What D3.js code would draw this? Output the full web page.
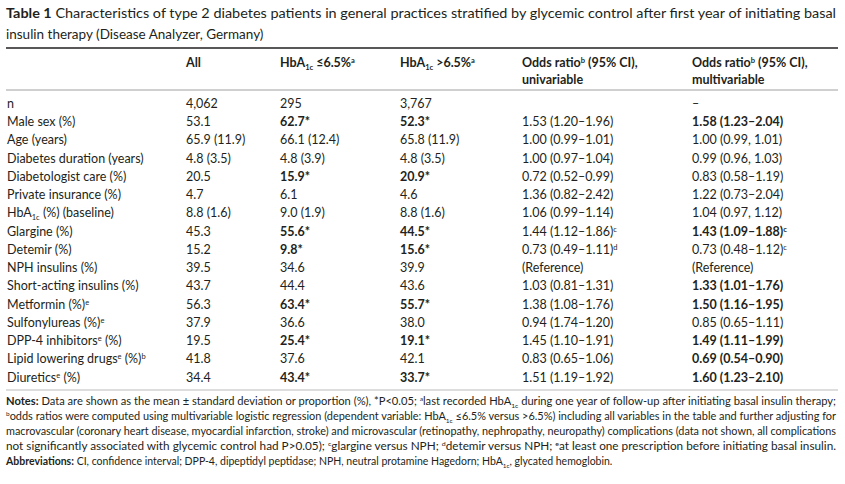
<!DOCTYPE html>
<html><head><meta charset="utf-8">
<script src="https://cdn.jsdelivr.net/npm/d3@7"></script>
<style>body{margin:0;background:#fff}svg{font-family:Lato,"Open Sans",sans-serif;fill:#231f20}</style>
</head><body><div id="chart"></div>
<script>
// markup: _x_ subscript, ^x^ superscript, ** prefix = bold cell
var titleLines = ["**Table 1** Characteristics of type 2 diabetes patients in general practices stratified by glycemic control after first year of initiating basal",
  "insulin therapy (Disease Analyzer, Germany)"];
var headers1 = ["", "All", "HbA_1c_ ≤6.5%^a^", "HbA_1c_ >6.5%^a^", "Odds ratio^b^ (95% CI),", "Odds ratio^b^ (95% CI),"];
var headers2 = ["", "", "", "", "univariable", "multivariable"];
var labels = ["n","Male sex (%)","Age (years)","Diabetes duration (years)","Diabetologist care (%)","Private insurance (%)",
  "HbA_1c_ (%) (baseline)","Glargine (%)","Detemir (%)","NPH insulins (%)","Short-acting insulins (%)","Metformin (%)^e^",
  "Sulfonylureas (%)^e^","DPP-4 inhibitors^e^ (%)","Lipid lowering drugs^e^ (%)^b^","Diuretics^e^ (%)"];
var allPts = ["4,062","53.1","65.9 (11.9)","4.8 (3.5)","20.5","4.7","8.8 (1.6)","45.3","15.2","39.5","43.7","56.3","37.9","19.5","41.8","34.4"];
var lowA1c = ["295","**62.7*","66.1 (12.4)","4.8 (3.9)","**15.9*","6.1","9.0 (1.9)","**55.6*","**9.8*","34.6","44.4","**63.4*","36.6","**25.4*","37.6","**43.4*"];
var highA1c = ["3,767","**52.3*","65.8 (11.9)","4.8 (3.5)","**20.9*","4.6","8.8 (1.6)","**44.5*","**15.6*","39.9","43.6","**55.7*","38.0","**19.1*","42.1","**33.7*"];
var orUni = ["","1.53 (1.20–1.96)","1.00 (0.99–1.01)","1.00 (0.97–1.04)","0.72 (0.52–0.99)","1.36 (0.82–2.42)","1.06 (0.99–1.14)",
  "1.44 (1.12–1.86)^c^","0.73 (0.49–1.11)^d^","(Reference)","1.03 (0.81–1.31)","1.38 (1.08–1.76)","0.94 (1.74–1.20)",
  "1.45 (1.10–1.91)","0.83 (0.65–1.06)","1.51 (1.19–1.92)"];
var orMulti = ["–","**1.58 (1.23–2.04)","1.00 (0.99, 1.01)","0.99 (0.96, 1.03)","0.83 (0.58–1.19)","1.22 (0.73–2.04)","1.04 (0.97, 1.12)",
  "**1.43 (1.09–1.88)^c^","0.73 (0.48–1.12)^c^","(Reference)","**1.33 (1.01–1.76)","**1.50 (1.16–1.95)","0.85 (0.65–1.11)",
  "**1.49 (1.11–1.99)","**0.69 (0.54–0.90)","**1.60 (1.23–2.10)"];
var notes = ["**Notes:** Data are shown as the mean ± standard deviation or proportion (%), *P<0.05; ^a^last recorded HbA_1c_ during one year of follow-up after initiating basal insulin therapy;",
  "^b^odds ratios were computed using multivariable logistic regression (dependent variable: HbA_1c_ ≤6.5% versus >6.5%) including all variables in the table and further adjusting for",
  "macrovascular (coronary heart disease, myocardial infarction, stroke) and microvascular (retinopathy, nephropathy, neuropathy) complications (data not shown, all complications",
  "not significantly associated with glycemic control had P>0.05); ^c^glargine versus NPH; ^d^detemir versus NPH; ^e^at least one prescription before initiating basal insulin.",
  "**Abbreviations:** CI, confidence interval; DPP-4, dipeptidyl peptidase; NPH, neutral protamine Hagedorn; HbA_1c_, glycated hemoglobin."];
var columns = [labels, allPts, lowA1c, highA1c, orUni, orMulti];
var colKeys = ["label","all","low","high","uni","multi"];

var W = 845, H = 484;
var svg = d3.select("#chart").append("svg").attr("width", W).attr("height", H);
var x = d3.scaleOrdinal().domain(colKeys).range([7, 186, 280, 400, 522, 692]);
var y = d3.scaleBand().domain(d3.range(labels.length)).range([95, 387]);

function rich(sel, str, size, boldAll) {
  var bold = !!boldAll;
  if (str.indexOf("**") === 0 && !/\*\*.*\*\*/.test(str.slice(2))) { bold = true; str = str.slice(2); }
  var parts = str.split(/(\*\*|_[^_]+_|\^[^\^]+\^)/).filter(function(p){return p !== "";});
  parts.forEach(function(p) {
    if (p === "**") { bold = !bold; return; }
    var t = sel.append("tspan").attr("font-weight", bold ? "bold" : "normal");
    if (p[0] === "_" && p.length > 2) t.text(p.slice(1, -1)).attr("font-size", size * 0.6).attr("dy", 3).attr("data-r", -3);
    else if (p[0] === "^" && p.length > 2) t.text(p.slice(1, -1)).attr("font-size", size * 0.6).attr("dy", -4).attr("data-r", 4);
    else t.text(p);
  });
  // reset baseline after shifted tspans
  sel.selectAll("tspan").each(function(d, i, n) {
    var prev = i > 0 ? n[i-1].getAttribute("data-r") : null;
    if (prev && !this.getAttribute("data-r")) d3.select(this).attr("dy", prev);
    else if (prev && this.getAttribute("data-r")) d3.select(this).attr("dy", +prev + (+this.getAttribute("dy")));
  });
}

titleLines.forEach(function(s, i) {
  svg.append("text").attr("x", 6).attr("y", 18 + i * 21).attr("font-size", 13.5)
    .attr("textLength", i === 0 ? 830 : null).attr("lengthAdjust", "spacingAndGlyphs").call(rich, s, 13.5);
});

svg.append("line").attr("x1", 6).attr("x2", 838).attr("y1", 48).attr("y2", 48).attr("stroke", "#231f20").attr("stroke-width", 1.6);
svg.append("line").attr("x1", 6).attr("x2", 838).attr("y1", 90).attr("y2", 90).attr("stroke", "#888").attr("stroke-width", 0.8);
svg.append("line").attr("x1", 6).attr("x2", 838).attr("y1", 390).attr("y2", 390).attr("stroke", "#aaa").attr("stroke-width", 0.8);

[headers1, headers2].forEach(function(h, r) {
  h.forEach(function(s, c) {
    if (!s) return;
    svg.append("text").attr("x", x(colKeys[c])).attr("y", 67 + r * 17).attr("font-size", 12.5).call(rich, s, 12.5, true);
  });
});

columns.forEach(function(col, c) {
  svg.append("g").selectAll("text").data(col).join("text")
    .attr("x", x(colKeys[c])).attr("y", function(d, i){ return y(i) + y.bandwidth() * 0.7; })
    .attr("font-size", 12.5)
    .each(function(d){ rich(d3.select(this), d, 12.5); });
});

notes.forEach(function(s, i) {
  svg.append("text").attr("x", 6).attr("y", 405 + i * 15).attr("font-size", 10.5)
    .attr("textLength", i < 4 ? 830 : null).attr("lengthAdjust", "spacingAndGlyphs").call(rich, s, 10.5);
});
</script></body></html>
